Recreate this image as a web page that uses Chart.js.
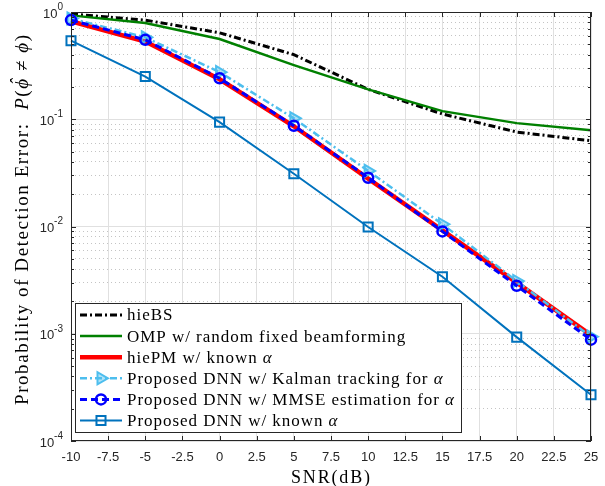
<!DOCTYPE html>
<html>
<head>
<meta charset="utf-8">
<script src="https://cdn.jsdelivr.net/npm/chart.js@4.4.1/dist/chart.umd.min.js"></script>
<style>
  html, body { margin: 0; padding: 0; background: #fff; }
  #wrap { width: 605px; height: 486px; }
</style>
</head>
<body>
<div id="wrap"><canvas id="chart" width="605" height="486"></canvas></div>
<script>
// SNR points (dB) and detection error probability of each scheme
const snrDb = [-10, -5, 0, 5, 10, 15, 20, 25];
const hieBS = [0.96, 0.84, 0.64, 0.40, 0.19, 0.112, 0.076, 0.063];
const ompRandomBf = [0.93, 0.79, 0.56, 0.32, 0.19, 0.119, 0.092, 0.079];
const hiePmKnown = [0.82, 0.53, 0.236, 0.086, 0.028, 0.0092, 0.0030, 0.00097];
const dnnKalman = [0.87, 0.58, 0.275, 0.102, 0.033, 0.0105, 0.0031, 0.00094];
const dnnMmse = [0.84, 0.55, 0.241, 0.087, 0.0285, 0.0090, 0.0028, 0.00088];
const dnnKnown = [0.54, 0.25, 0.094, 0.031, 0.0099, 0.0034, 0.00093, 0.00027];

const legendLabels = [
  'hieBS',
  'OMP w/ random fixed beamforming',
  'hiePM w/ known α',
  'Proposed DNN w/ Kalman tracking for α',
  'Proposed DNN w/ MMSE estimation for α',
  'Proposed DNN w/ known α'
];

const xTicks = [-10, -7.5, -5, -2.5, 0, 2.5, 5, 7.5, 10, 12.5, 15, 17.5, 20, 22.5, 25];
const yDecades = [-4, -3, -2, -1, 0];

// log grid: 1..9 x 10^e inside [1e-4, 1]
const yTickValues = [];
yDecades.forEach(e => {
  for (let m = 1; m <= 9; m++) {
    const v = Number((m * Math.pow(10, e)).toPrecision(6));
    if (v <= 1) yTickValues.push(v);
  }
});
const isDecade = v => Math.abs(Math.log10(v) - Math.round(Math.log10(v))) < 1e-9;

const AXIS = '#262626';
const SERIF = '"Liberation Serif", "Times New Roman", serif';
const SANS = '"Liberation Sans", Arial, sans-serif';

const toPoints = ys => snrDb.map((x, i) => ({ x, y: ys[i] }));

const datasets = [
  { label: legendLabels[0], data: toPoints(hieBS), borderColor: '#000000', borderWidth: 3,
    borderDash: [7, 3, 2, 3], pointRadius: 0, order: 6 },
  { label: legendLabels[1], data: toPoints(ompRandomBf), borderColor: '#008000', borderWidth: 2.5,
    pointRadius: 0, order: 5 },
  { label: legendLabels[2], data: toPoints(hiePmKnown), borderColor: '#ff0000', borderWidth: 4.5,
    pointRadius: 0, order: 4 },
  { label: legendLabels[3], data: toPoints(dnnKalman), borderColor: '#4DBEEE', borderWidth: 2.5,
    borderDash: [7, 3, 2, 3], pointStyle: 'triangle', rotation: 90, pointRadius: 7,
    pointBorderWidth: 2, pointBackgroundColor: 'rgba(77,190,238,0.45)', pointBorderColor: '#4DBEEE', order: 3 },
  { label: legendLabels[4], data: toPoints(dnnMmse), borderColor: '#0000ff', borderWidth: 3,
    borderDash: [7, 4], pointStyle: 'circle', pointRadius: 5, pointBorderWidth: 2.5,
    pointBackgroundColor: 'rgba(0,0,0,0)', pointBorderColor: '#0000ff', order: 2 },
  { label: legendLabels[5], data: toPoints(dnnKnown), borderColor: '#0072BD', borderWidth: 2,
    pointStyle: 'rect', pointRadius: 6.4, pointBorderWidth: 2,
    pointBackgroundColor: 'rgba(0,0,0,0)', pointBorderColor: '#0072BD', order: 1 }
];
datasets.forEach(d => { d.clip = false; d.tension = 0; d.fill = false; });

// text made of runs with their own font, drawn glyph by glyph with extra tracking
const glyphs = s => Array.from(s);
function richWidth(ctx, runs, track) {
  let w = 0;
  runs.forEach(r => {
    ctx.font = r.font;
    glyphs(r.text).forEach(g => { w += ctx.measureText(g).width + track; });
  });
  return w - track;
}
function drawRich(ctx, runs, x, y, track) {
  runs.forEach(r => {
    ctx.font = r.font;
    glyphs(r.text).forEach(g => {
      const w = ctx.measureText(g).width;
      ctx.fillText(g, x, y);
      if (r.hat) {
        // circumflex accent over the glyph
        ctx.save();
        ctx.textAlign = 'center';
        ctx.fillText('ˆ', x + w / 2 + 2, y - 5);
        ctx.restore();
      }
      x += w + track;
    });
  });
}
// tracking that makes the runs span the given width
function fitTrack(ctx, runs, width) {
  const n = runs.reduce((k, r) => k + glyphs(r.text).length, 0);
  return (width - richWidth(ctx, runs, 0)) / Math.max(1, n - 1);
}
function labelRuns(text, size) {
  const up = size + 'px ' + SERIF;
  const it = 'italic ' + size + 'px ' + SERIF;
  return text.split(/(α)/).filter(s => s).map(s => ({ text: s, font: s === 'α' ? it : up }));
}

function drawMarker(ctx, ds, x, y) {
  if (!ds.pointRadius) return;
  const r = ds.pointRadius;
  ctx.save();
  ctx.setLineDash([]);
  ctx.lineWidth = ds.pointBorderWidth;
  ctx.strokeStyle = ds.pointBorderColor;
  ctx.fillStyle = ds.pointBackgroundColor;
  ctx.beginPath();
  if (ds.pointStyle === 'circle') {
    ctx.arc(x, y, r, 0, Math.PI * 2);
  } else if (ds.pointStyle === 'rect') {
    const s = r * Math.SQRT1_2;
    ctx.rect(x - s, y - s, 2 * s, 2 * s);
  } else if (ds.pointStyle === 'triangle') {
    ctx.moveTo(x + r, y);
    ctx.lineTo(x - r / 2, y - r * Math.sqrt(3) / 2);
    ctx.lineTo(x - r / 2, y + r * Math.sqrt(3) / 2);
    ctx.closePath();
  }
  ctx.fill();
  ctx.stroke();
  ctx.restore();
}

const axesPlugin = {
  id: 'matlabAxes',
  afterDatasetsDraw(chart) {
    const { ctx, chartArea: a, scales: { x, y } } = chart;
    ctx.save();
    ctx.strokeStyle = AXIS;
    ctx.lineWidth = 1;
    ctx.setLineDash([]);
    ctx.beginPath();
    xTicks.forEach(v => {
      const px = Math.round(x.getPixelForValue(v)) + 0.5;
      ctx.moveTo(px, a.bottom); ctx.lineTo(px, a.bottom - 5);
      ctx.moveTo(px, a.top); ctx.lineTo(px, a.top + 5);
    });
    yTickValues.forEach(v => {
      const len = isDecade(v) ? 5 : 3;
      const py = Math.round(y.getPixelForValue(v)) + 0.5;
      ctx.moveTo(a.left, py); ctx.lineTo(a.left + len, py);
      ctx.moveTo(a.right, py); ctx.lineTo(a.right - len, py);
    });
    ctx.stroke();
    ctx.strokeRect(Math.round(a.left) + 0.5, Math.round(a.top) + 0.5,
                   Math.round(a.width) - 1, Math.round(a.height) - 1);

    // tick labels
    ctx.fillStyle = AXIS;
    ctx.font = '13px ' + SANS;
    ctx.textAlign = 'center';
    ctx.textBaseline = 'middle';
    xTicks.forEach(v => ctx.fillText(String(v), x.getPixelForValue(v), a.bottom + 16));

    ctx.textAlign = 'right';
    yDecades.forEach(e => {
      const py = y.getPixelForValue(Math.pow(10, e));
      const exp = String(e);
      ctx.font = '10px ' + SANS;
      const ew = ctx.measureText(exp).width;
      ctx.fillText(exp, a.left - 8, py - 5);
      ctx.font = '13px ' + SANS;
      ctx.fillText('10', a.left - 8 - ew, py + 2);
    });
    ctx.restore();
  },
  afterDraw(chart) {
    const { ctx } = chart;
    ctx.save();
    ctx.fillStyle = '#000';
    ctx.textAlign = 'left';
    ctx.textBaseline = 'alphabetic';

    // x axis title
    const xRuns = [{ text: 'SNR(dB)', font: '18px ' + SERIF }];
    drawRich(ctx, xRuns, 291, 483, fitTrack(ctx, xRuns, 79));

    // y axis title, rotated
    const up = '19px ' + SERIF, it = 'italic 19px ' + SERIF;
    const yRuns = [
      { text: 'Probability of Detection Error:  ', font: up },
      { text: 'P', font: it }, { text: '(', font: up },
      { text: 'ϕ', font: it, hat: true }, { text: ' ≠ ', font: up },
      { text: 'ϕ', font: it }, { text: ')', font: up }
    ];
    const yTrack = fitTrack(ctx, yRuns, 370);
    ctx.translate(28, 220);
    ctx.rotate(-Math.PI / 2);
    drawRich(ctx, yRuns, -185, 0, yTrack);
    ctx.restore();

    // legend box
    ctx.save();
    const box = { left: 75.5, top: 303.5, right: 461.5, bottom: 432.5 };
    ctx.fillStyle = '#fff';
    ctx.fillRect(box.left, box.top, box.right - box.left, box.bottom - box.top);
    ctx.strokeStyle = AXIS;
    ctx.lineWidth = 1;
    ctx.strokeRect(box.left, box.top, box.right - box.left, box.bottom - box.top);
    const legTrack = fitTrack(ctx, labelRuns(legendLabels[4], 17), 327);
    chart.data.datasets.forEach((ds, i) => {
      const ry = 315 + i * 21.1;
      ctx.save();
      ctx.strokeStyle = ds.borderColor;
      ctx.lineWidth = ds.borderWidth;
      ctx.setLineDash(ds.borderDash || []);
      ctx.beginPath();
      ctx.moveTo(80, ry);
      ctx.lineTo(122, ry);
      ctx.stroke();
      ctx.restore();
      drawMarker(ctx, ds, 101, ry);
      ctx.fillStyle = '#000';
      ctx.textBaseline = 'middle';
      drawRich(ctx, labelRuns(ds.label, 17), 127, ry + 1, legTrack);
    });
    ctx.restore();
  }
};

new Chart(document.getElementById('chart').getContext('2d'), {
  type: 'line',
  data: { datasets },
  options: {
    responsive: false,
    animation: false,
    devicePixelRatio: 1,
    layout: { padding: { top: 12, right: 14, left: 0, bottom: 0 } },
    plugins: { legend: { display: false }, tooltip: { enabled: false } },
    scales: {
      x: {
        type: 'linear', min: -10, max: 25,
        afterBuildTicks: s => { s.ticks = xTicks.map(v => ({ value: v })); },
        afterFit: s => { s.height = 45; },
        ticks: { display: false },
        grid: { color: '#e0e0e0', lineWidth: 1, drawTicks: false },
        border: { display: false }
      },
      y: {
        type: 'logarithmic', min: 1e-4, max: 1,
        afterBuildTicks: s => { s.ticks = yTickValues.map(v => ({ value: v, major: isDecade(v) })); },
        afterFit: s => { s.width = 71; },
        ticks: { display: false },
        grid: {
          drawTicks: false, lineWidth: 1,
          color: c => (c.tick && !isDecade(c.tick.value)) ? '#c4c4c4' : '#e0e0e0'
        },
        border: {
          display: false,
          dash: c => (c.tick && !isDecade(c.tick.value)) ? [1, 3] : []
        }
      }
    }
  },
  plugins: [axesPlugin]
});
</script>
</body>
</html>
